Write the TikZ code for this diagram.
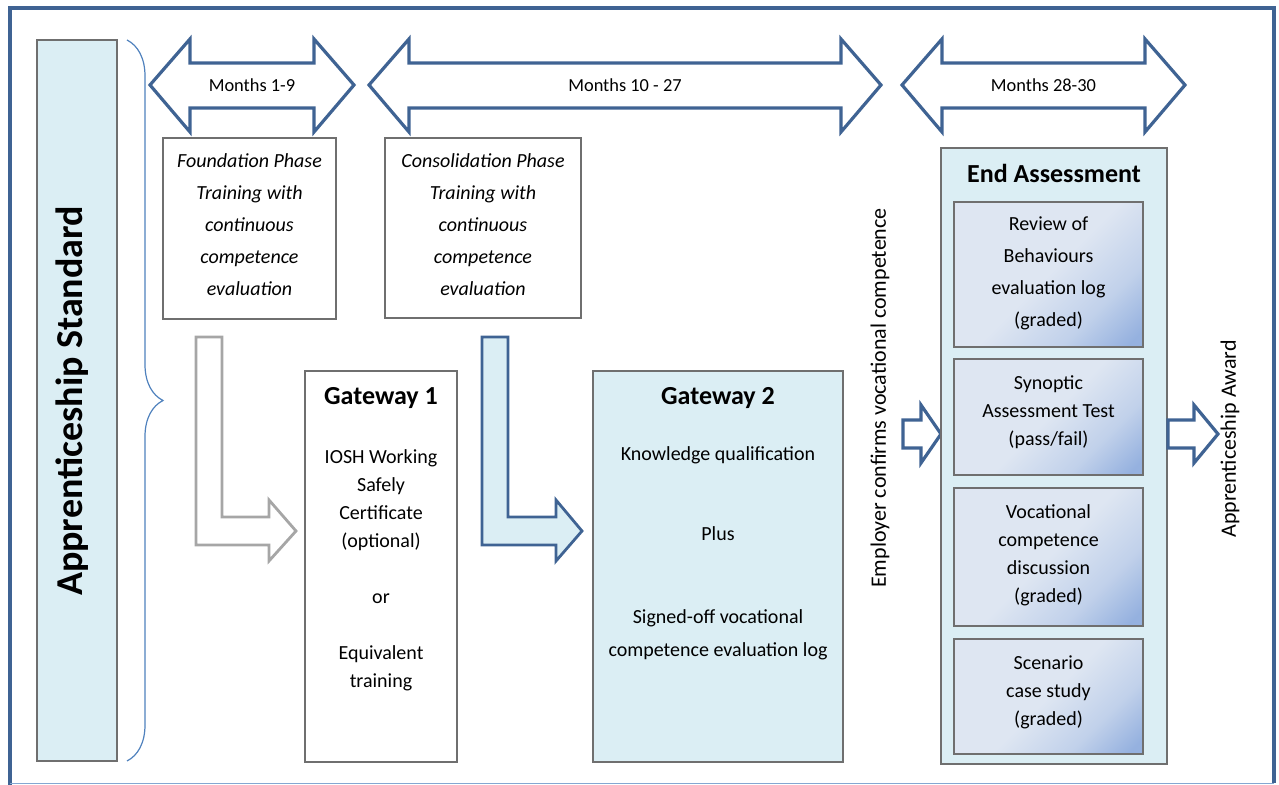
\documentclass[tikz,border=0pt]{standalone}
\usepackage{fontspec}
\setmainfont{Carlito}
\usetikzlibrary{decorations.pathreplacing,positioning}
\definecolor{frameblue}{HTML}{3F6393}
\definecolor{paleblue}{HTML}{DBEEF4}
\definecolor{boxgray}{HTML}{6F6F6F}
\definecolor{arrowgray}{HTML}{A6A6A6}
\definecolor{braceblue}{HTML}{4F81BD}
\definecolor{evallight}{HTML}{DEE6F2}
\definecolor{evaldark}{HTML}{95B1DF}
\pgfdeclareverticalshading{evalshade}{100bp}{color(0bp)=(evaldark); color(18bp)=(evaldark); color(32bp)=(evaldark!40!evallight); color(50bp)=(evallight); color(100bp)=(evallight)}
\newcommand\MonthArrow[4]{%
    \draw[blockarrow] (#1,85) -- ++(40,-46) -- ++(0,24) -- (#2-40,63) -- ++(0,-24)
        -- (#2,85) -- ++(-40,47) -- ++(0,-24) -- (#1+40,108) -- ++(0,24) -- cycle;
    \node[monthtext] (#3) at ({(#1+#2)/2},85) {#4};
}

\begin{document}
\begin{tikzpicture}[x=0.5pt,y=-0.5pt,
    blockarrow/.style={draw=frameblue,line width=1.6pt,line join=miter,fill=white},
    monthtext/.style={font=\fontsize{9.2}{11}\selectfont},
    phasebox/.style={draw=boxgray,line width=0.6pt,fill=white,inner sep=0pt,outer sep=0pt},
    phasetext/.style={align=center,font=\fontsize{10}{16}\selectfont\itshape},
    gatebox/.style={draw=boxgray,line width=0.6pt,inner sep=0pt,outer sep=0pt,
        minimum height=195.5pt},
    boxtitle/.style={font=\fontsize{13}{15}\selectfont\bfseries},
    bodytext/.style={align=center,font=\fontsize{10}{14}\selectfont},
    evalbox/.style={draw=boxgray,line width=0.6pt,shading=evalshade,shading angle=45,
        inner sep=0pt,outer sep=0pt,minimum width=94.5pt},
    sidetext/.style={rotate=90,font=\fontsize{11}{13}\selectfont}]
    \useasboundingbox (0,0) rectangle (1279,785);
    \draw[frameblue,line width=1.6pt] (10,785) -- (10,8) -- (1274,8) -- (1274,783);
    \draw[braceblue!70,line width=0.5pt] (10,783.5) -- (1274,783.5);

    \node[draw=boxgray,line width=0.6pt,fill=paleblue,minimum width=40pt,
        minimum height=360.5pt,inner sep=0pt,outer sep=0pt] (stdbar) at (77,400.5) {};
    \node[rotate=90,font=\fontsize{19}{21}\selectfont\bfseries] (stdlabel) at (72,401)
        {Apprenticeship Standard};
    \draw[braceblue,line width=0.6pt,decorate,decoration={brace,amplitude=18pt}]
        ([xshift=5pt]stdbar.north east) -- ([xshift=5pt]stdbar.south east);

    \MonthArrow{150}{354}{months1}{Months 1-9}
    \MonthArrow{369}{881}{months2}{Months 10 - 27}
    \MonthArrow{902}{1185}{months3}{Months 28-30}

    \node[phasebox,minimum width=86.5pt,minimum height=90.5pt] (found) at (249.5,228.5) {};
    \node[phasetext] (foundtext) at ([yshift=2pt]found.center)
        {Foundation Phase\\Training with\\continuous\\competence\\evaluation};
    \node[phasebox,minimum width=98pt,minimum height=90pt] (consol) at (483,228) {};
    \node[phasetext] (consoltext) at ([yshift=1.5pt]consol.center)
        {Consolidation Phase\\Training with\\continuous\\competence\\evaluation};

    \draw[arrowgray,line width=1.4pt,fill=white,line join=miter] (196,337) -- (222,337)
        -- (222,517) -- (269,517) -- (269,500) -- (296,531) -- (269,561) -- (269,545)
        -- (196,545) -- cycle;
    \draw[frameblue,line width=1.4pt,fill=paleblue,line join=miter] (482,337) -- (508,337)
        -- (508,517) -- (556,517) -- (556,500) -- (582,531) -- (556,561) -- (556,545)
        -- (482,545) -- cycle;

    \node[gatebox,fill=white,minimum width=76pt] (gate1) at (381,566.5) {};
    \node[boxtitle] (gate1title) at ([yshift=-13.5pt]gate1.north) {Gateway 1};
    \node[bodytext] (gate1text) at (381,570.5)
        {IOSH Working\\Safely\\Certificate\\(optional)\\[14pt]or\\[14pt]Equivalent\\training};

    \node[gatebox,fill=paleblue,minimum width=125pt] (gate2) at (718,566.5) {};
    \node[boxtitle] (gate2title) at ([yshift=-13.5pt]gate2.north) {Gateway 2};
    \node[bodytext,font=\fontsize{10}{16.5}\selectfont] (gate2text) at (718,553)
        {Knowledge qualification\\[23.5pt]Plus\\[25pt]Signed-off vocational\\competence evaluation log};

    \node[sidetext] (employer) at (880,398) {Employer confirms vocational competence};
    \draw[blockarrow] (903,420) -- (921,420) -- (921,405) -- (941,434) -- (921,463)
        -- (921,448) -- (903,448) -- cycle;

    \node[draw=boxgray,line width=0.6pt,fill=paleblue,minimum width=113pt,minimum height=308pt,
        inner sep=0pt,outer sep=0pt] (endbox) at (1054,456) {};
    \node[boxtitle] (endtitle) at ([yshift=-12.5pt]endbox.north) {End Assessment};
    \node[evalbox,minimum height=72.5pt] (review) at (1048.5,274.5) {};
    \node[evalbox,minimum height=58pt,below=6pt of review] (synoptic) {};
    \node[evalbox,minimum height=69pt,below=6.5pt of synoptic] (vocational) {};
    \node[evalbox,minimum height=57.5pt,below=6.5pt of vocational] (scenario) {};
    \node[bodytext,font=\fontsize{10}{16}\selectfont] (reviewtext) at ([yshift=0.5pt]review.center)
        {Review of\\Behaviours\\evaluation log\\(graded)};
    \node[bodytext] (synoptictext) at ([yshift=2.5pt]synoptic.center)
        {Synoptic\\Assessment Test\\(pass/fail)};
    \node[bodytext] (vocationaltext) at ([yshift=1pt]vocational.center)
        {Vocational\\competence\\discussion\\(graded)};
    \node[bodytext] (scenariotext) at ([yshift=2pt]scenario.center)
        {Scenario\\case study\\(graded)};

    \draw[blockarrow] (1168,420) -- (1194,420) -- (1194,405) -- (1218,434) -- (1194,463)
        -- (1194,448) -- (1168,448) -- cycle;
    \node[sidetext] (award) at (1230,439) {Apprenticeship Award};
\end{tikzpicture}
\end{document}
